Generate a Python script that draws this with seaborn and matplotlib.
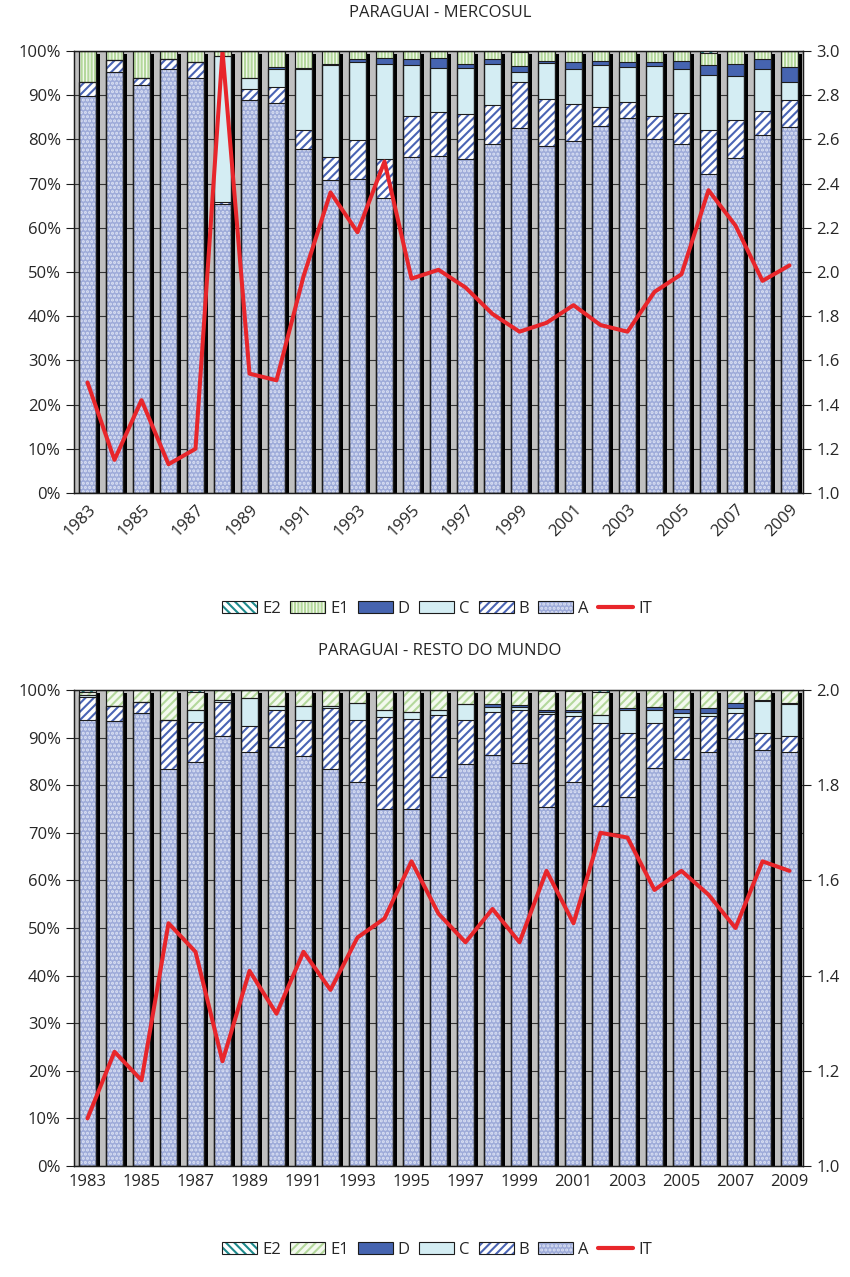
import numpy as np
import matplotlib
matplotlib.use("Agg")
import matplotlib.pyplot as plt
import matplotlib.patches as mpatches
from matplotlib.lines import Line2D
from matplotlib.legend_handler import HandlerTuple
from matplotlib.ticker import FixedLocator, FuncFormatter
import seaborn as sns

years = np.arange(1983, 2010)

# Paraguai - Mercosul: share of each category (%) and IT index
merc_A = [89.8, 95.2, 92.2, 95.9, 93.8, 65.4, 88.9, 88.3, 77.8, 70.8, 71.0, 66.7, 76.0, 76.2,
          75.6, 79.0, 82.5, 78.5, 79.7, 83.0, 84.9, 80.0, 78.9, 72.2, 75.9, 80.9, 82.7]
merc_B = [3.2, 2.8, 1.8, 2.4, 3.8, 0.5, 2.6, 3.5, 4.3, 5.2, 8.9, 8.8, 9.4, 10.1,
          10.2, 8.8, 10.5, 10.6, 8.3, 4.3, 3.6, 5.4, 7.1, 9.9, 8.6, 5.6, 6.2]
merc_C = [0.0, 0.0, 0.0, 0.0, 0.0, 33.0, 2.5, 4.2, 13.8, 20.8, 17.5, 21.6, 11.4, 9.9,
          10.4, 9.2, 2.2, 8.1, 8.0, 9.5, 7.8, 11.1, 9.9, 12.5, 9.8, 9.4, 4.1]
merc_D = [0.0, 0.0, 0.0, 0.0, 0.0, 0.0, 0.0, 0.3, 0.3, 0.2, 0.9, 1.3, 1.5, 2.2,
          0.8, 1.3, 1.5, 0.5, 1.4, 0.9, 1.2, 1.0, 1.9, 2.2, 2.8, 2.3, 3.4]
merc_E1 = [7.0, 2.0, 6.0, 1.7, 2.4, 1.1, 6.0, 3.7, 3.8, 3.0, 1.7, 1.6, 1.7, 1.6,
           3.0, 1.7, 3.0, 2.3, 2.6, 2.3, 2.5, 2.5, 2.2, 2.8, 2.9, 1.8, 3.6]
merc_E2 = [0.0, 0.0, 0.0, 0.0, 0.0, 0.0, 0.0, 0.0, 0.0, 0.0, 0.0, 0.0, 0.0, 0.0,
           0.0, 0.0, 0.3, 0.0, 0.0, 0.0, 0.0, 0.0, 0.0, 0.4, 0.0, 0.0, 0.0]
merc_IT = [1.50, 1.15, 1.42, 1.13, 1.20, 3.00, 1.54, 1.51, 1.98, 2.36, 2.18, 2.50, 1.97, 2.01,
           1.93, 1.81, 1.73, 1.77, 1.85, 1.76, 1.73, 1.91, 1.99, 2.37, 2.21, 1.96, 2.03]

# Paraguai - Resto do Mundo
rm_A = [93.8, 93.5, 95.1, 83.5, 84.9, 90.3, 87.0, 88.1, 86.1, 83.4, 80.7, 74.9, 75.1, 81.7,
        84.4, 86.3, 84.6, 75.4, 80.6, 75.6, 77.6, 83.7, 85.4, 86.9, 89.7, 87.5, 86.9]
rm_B = [4.7, 3.1, 2.3, 10.3, 8.3, 7.2, 5.4, 7.8, 7.6, 12.8, 13.1, 19.4, 18.8, 13.0,
        9.2, 9.0, 11.1, 19.6, 14.0, 17.5, 13.3, 9.3, 8.9, 7.6, 5.4, 3.5, 3.5]
rm_C = [0.5, 0.0, 0.0, 0.0, 2.5, 0.4, 5.9, 0.7, 2.9, 0.4, 3.4, 1.6, 1.4, 1.1,
        3.5, 1.2, 0.8, 0.4, 0.7, 1.6, 5.0, 2.9, 0.8, 0.7, 1.1, 6.6, 6.7]
rm_D = [0.0, 0.0, 0.0, 0.0, 0.0, 0.0, 0.0, 0.0, 0.0, 0.0, 0.0, 0.0, 0.0, 0.0,
        0.0, 0.6, 0.3, 0.4, 0.4, 0.0, 0.4, 0.6, 1.0, 1.0, 1.0, 0.3, 0.2]
rm_E1 = [0.6, 3.4, 2.6, 6.2, 3.9, 2.1, 1.7, 3.4, 3.4, 3.4, 2.8, 4.1, 4.7, 4.2,
         2.9, 2.9, 3.2, 4.0, 4.0, 4.8, 3.7, 3.5, 3.9, 3.8, 2.8, 2.1, 2.7]
rm_E2 = [0.4, 0.0, 0.0, 0.0, 0.4, 0.0, 0.0, 0.0, 0.0, 0.0, 0.0, 0.0, 0.0, 0.0,
         0.0, 0.0, 0.0, 0.2, 0.3, 0.5, 0.0, 0.0, 0.0, 0.0, 0.0, 0.0, 0.0]
rm_IT = [1.10, 1.24, 1.18, 1.51, 1.45, 1.22, 1.41, 1.32, 1.45, 1.37, 1.48, 1.52, 1.64, 1.53,
         1.47, 1.54, 1.47, 1.62, 1.51, 1.70, 1.69, 1.58, 1.62, 1.57, 1.50, 1.64, 1.62]

order = ["A", "B", "C", "D", "E1", "E2"]
legend_order = ["E2", "E1", "D", "C", "B", "A"]

sns.set_theme(style="white")
plt.rcParams["font.family"] = ["Open Sans", "DejaVu Sans"]
plt.rcParams["hatch.linewidth"] = 1.5

BG = "#c0c0c0"
EDGE = "#1c1c1c"
RED = "#e8262b"
BAR_W = 0.65


def styles(e1_hatch):
    # face colour, hatch colour, hatch pattern
    return {
        "A": ("#9eabd9", "#dce2f4", "...."),
        "B": ("#ffffff", "#4a64b4", "////"),
        "C": ("#d4edf3", "#d4edf3", None),
        "D": ("#4664b0", "#4664b0", None),
        "E1": ("#f3f9ee", "#b4d89c", e1_hatch),
        "E2": ("#ffffff", "#1d8a8c", "\\\\\\\\"),
    }


def draw_panel(ax, segs, it, it_max, it_step, e1_hatch, rotate):
    st = styles(e1_hatch)
    cum = np.cumsum([segs[k] for k in order], axis=0)
    ax.set_facecolor(BG)

    # drop shadow behind each column
    sns.barplot(x=years + 0.12, y=np.full(len(years), 99.3), native_scale=True,
                color="black", saturation=1, width=BAR_W, errorbar=None,
                linewidth=0, ax=ax)
    # stacked columns, drawn from the full total down to A
    for i in reversed(range(len(order))):
        face, hc, hatch = st[order[i]]
        kws = dict(edgecolor=hc, linewidth=0)
        if hatch:
            kws["hatch"] = hatch
        sns.barplot(x=years, y=cum[i], native_scale=True, color=face, saturation=1,
                    width=BAR_W, errorbar=None, ax=ax, **kws)
    # segment outlines
    for i in range(len(order)):
        sns.barplot(x=years, y=cum[i], native_scale=True, fill=False, color=EDGE,
                    linewidth=0.8, width=BAR_W, errorbar=None, ax=ax)

    ax.set_xlim(1982.5, 2009.5)
    ax.set_ylim(0, 100)
    ax.set_yticks(np.arange(0, 101, 10))
    ax.yaxis.set_major_formatter(FuncFormatter(lambda v, p: f"{int(v)}%"))
    ax.yaxis.grid(True, color="#333333", linewidth=0.8)
    ax.xaxis.grid(False)
    ax.set_axisbelow(True)
    ax.set_xlabel("")
    ax.set_ylabel("")

    ax.xaxis.set_major_locator(FixedLocator(years[::2]))
    ax.xaxis.set_minor_locator(FixedLocator(np.arange(1982.5, 2010, 1.0)))
    ax.tick_params(axis="x", which="major", length=0, labelsize=12, pad=6)
    ax.tick_params(axis="x", which="minor", length=6, width=0.8, color=EDGE, direction="out")
    ax.tick_params(axis="y", length=6, width=0.8, color=EDGE, direction="out", labelsize=12)
    ax.set_xticklabels([str(y) for y in years[::2]])
    if rotate:
        for lab in ax.get_xticklabels():
            lab.set_rotation(45)
            lab.set_ha("right")
            lab.set_va("top")
            lab.set_rotation_mode("anchor")

    ax2 = ax.twinx()
    sns.lineplot(x=years, y=it, color=RED, linewidth=2.9, ax=ax2, legend=False)
    ax2.set_ylim(1.0, it_max)
    ax2.set_yticks(np.arange(1.0, it_max + 1e-9, it_step))
    ax2.yaxis.set_major_formatter(FuncFormatter(lambda v, p: f"{v:.1f}"))
    ax2.tick_params(axis="y", length=6, width=0.8, color=EDGE, direction="out", labelsize=12)
    ax2.set_ylabel("")
    ax2.grid(False)
    for a in (ax, ax2):
        for s in a.spines.values():
            s.set_color(EDGE)
            s.set_linewidth(0.9)
    return st


def add_legend(fig, st, y):
    handles, labels = [], []
    for k in legend_order:
        face, hc, hatch = st[k]
        fillp = mpatches.Patch(facecolor=face, edgecolor=hc, linewidth=0, hatch=hatch)
        outl = mpatches.Patch(facecolor="none", edgecolor=EDGE, linewidth=0.8)
        handles.append((fillp, outl))
        labels.append(k)
    handles.append(Line2D([], [], color=RED, linewidth=3))
    labels.append("IT")
    fig.legend(handles, labels, loc="center", bbox_to_anchor=(0.514, y), ncol=7,
               frameon=False, fontsize=12, handlelength=2.1, handleheight=0.75,
               handletextpad=0.3, columnspacing=0.55,
               handler_map={tuple: HandlerTuple(ndivide=1, pad=0)})


W, H = 850, 1277
fig = plt.figure(figsize=(W / 100, H / 100), dpi=100)

ax_top = fig.add_axes([74 / W, 1 - 493 / H, 729 / W, 442 / H])
ax_bot = fig.add_axes([74 / W, 1 - 1166 / H, 729 / W, 476 / H])

merc = dict(A=merc_A, B=merc_B, C=merc_C, D=merc_D, E1=merc_E1, E2=merc_E2)
rm = dict(A=rm_A, B=rm_B, C=rm_C, D=rm_D, E1=rm_E1, E2=rm_E2)

st_top = draw_panel(ax_top, merc, merc_IT, 3.0, 0.2, "|||||", True)
st_bot = draw_panel(ax_bot, rm, rm_IT, 2.0, 0.2, "////", False)

fig.text(440 / W, 1 - 13 / H, "PARAGUAI - MERCOSUL", ha="center", va="center", fontsize=12)
fig.text(440 / W, 1 - 651 / H, "PARAGUAI - RESTO DO MUNDO", ha="center", va="center", fontsize=12)

add_legend(fig, st_top, 1 - 609 / H)
add_legend(fig, st_bot, 1 - 1250 / H)

fig.savefig("out.png", dpi=100)
